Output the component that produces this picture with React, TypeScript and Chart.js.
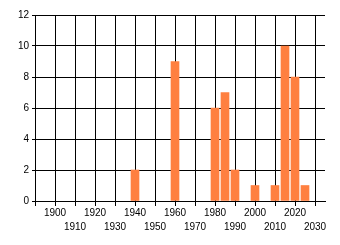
import { useEffect, useRef } from 'react';
import { Chart, registerables } from 'chart.js';

Chart.register(...registerables);

const years = [1940, 1960, 1980, 1985, 1990, 2000, 2010, 2015, 2020, 2025];
const counts = [2, 9, 6, 7, 2, 1, 1, 10, 8, 1];
const xMin = 1890;
const xMax = 2035;
const xStep = 10;
const firstLabel = 1900;
const yMin = 0;
const yMax = 12;
const yStep = 2;

export default function App() {
  const ref = useRef<HTMLCanvasElement | null>(null);
  useEffect(() => {
    if (!ref.current) return;
    const font = { family: '"Liberation Sans", Arial, sans-serif', size: 10, lineHeight: '14px' };
    const chart = new Chart(ref.current, {
      type: 'bar',
      data: {
        datasets: [
          {
            data: years.map((y, i) => ({ x: y, y: counts[i] })),
            backgroundColor: '#ff8040',
            borderWidth: 0,
            barThickness: 8,
          },
        ],
      },
      options: {
        animation: false,
        responsive: false,
        events: [],
        layout: { padding: { left: 0, top: 15, right: 15, bottom: 0 } },
        plugins: { legend: { display: false }, tooltip: { enabled: false } },
        scales: {
          x: {
            type: 'linear',
            min: xMin,
            max: xMax,
            offset: false,
            grid: { offset: false, color: '#000', lineWidth: 1, tickLength: 5, drawTicks: true },
            border: { display: true, color: '#000' },
            ticks: {
              stepSize: xStep,
              includeBounds: false,
              autoSkip: false,
              minRotation: 0,
              maxRotation: 0,
              padding: 0,
              color: '#000',
              font,
              callback: (value: any) => {
                const v = Number(value);
                if (v < firstLabel) return '';
                const idx = Math.round((v - firstLabel) / xStep);
                return idx % 2 === 0 ? [String(v), ''] : ['', String(v)];
              },
            },
            afterFit: (scale: any) => {
              scale.height = 44;
            },
          },
          y: {
            min: yMin,
            max: yMax,
            grid: { color: '#000', lineWidth: 1, tickLength: 3, drawTicks: true },
            border: { display: true, color: '#000' },
            ticks: { stepSize: yStep, padding: 3, color: '#000', font: { family: '"Liberation Sans", Arial, sans-serif', size: 10 } },
            afterFit: (scale: any) => {
              scale.width = 35;
            },
          },
        },
      },
    } as any);
    return () => chart.destroy();
  }, []);
  return (
    <div style={{ position: 'absolute', left: 0, top: 0, width: 340, height: 245, background: '#fff' }}>
      <canvas ref={ref} width={340} height={245} />
    </div>
  );
}
